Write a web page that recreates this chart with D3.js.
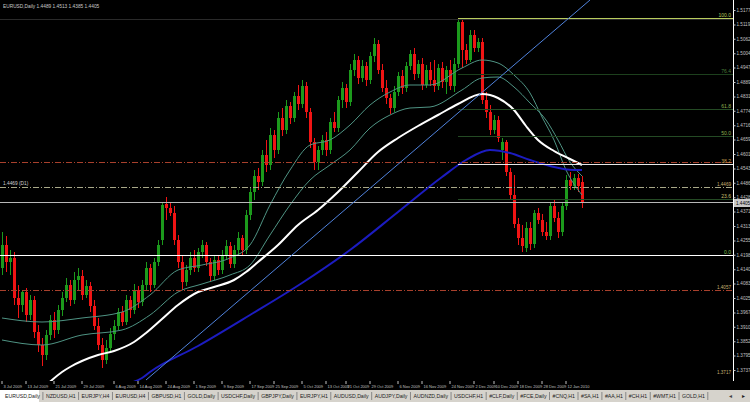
<!DOCTYPE html>
<html lang="en">
<head>
<meta charset="utf-8">
<title>EURUSD,Daily</title>
<script src="https://cdn.jsdelivr.net/npm/d3@7/dist/d3.min.js"></script>
<style>
body { margin: 0; background: #000; }
svg { display: block; font-family: "Liberation Sans", Arial, sans-serif; }
.axis text { fill: #c0c0c0; font-family: "Liberation Sans Narrow", "Liberation Sans", sans-serif; }
.axis line { stroke: #c0c0c0; }
</style>
</head>
<body>
<script>

// daily candles, [open, high, low, close]
var candles = [
  [1.4145,1.4289,1.4117,1.4237],[1.4237,1.4273,1.4129,1.4169],[1.4169,1.4217,1.4117,1.4185],[1.4185,1.4209,1.3997,1.4025],
  [1.4025,1.4077,1.3945,1.3997],[1.3997,1.4057,1.3969,1.4049],[1.4049,1.4065,1.3929,1.3957],[1.3957,1.4037,1.3937,1.4017],
  [1.4017,1.4033,1.3865,1.3889],[1.3889,1.3917,1.3809,1.3837],[1.3837,1.3865,1.3753,1.3797],[1.3797,1.3897,1.3777,1.3877],
  [1.3877,1.3957,1.3857,1.3937],[1.3937,1.3969,1.3865,1.3897],[1.3897,1.3997,1.3881,1.3977],[1.3977,1.4049,1.3953,1.4025],
  [1.4025,1.4105,1.4009,1.4077],[1.4077,1.4097,1.3993,1.4017],[1.4017,1.4129,1.4001,1.4097],[1.4097,1.4145,1.4057,1.4113],
  [1.4113,1.4137,1.4017,1.4037],[1.4037,1.4097,1.4025,1.4073],[1.4073,1.4089,1.3969,1.3993],[1.3993,1.4017,1.3897,1.3913],
  [1.3913,1.3945,1.3817,1.3837],[1.3837,1.3865,1.3745,1.3777],[1.3777,1.3857,1.3761,1.3825],[1.3825,1.3905,1.3809,1.3881],
  [1.3881,1.3937,1.3857,1.3913],[1.3913,1.3985,1.3897,1.3969],[1.3969,1.3993,1.3913,1.3929],[1.3929,1.4037,1.3917,1.4017],
  [1.4017,1.4033,1.3945,1.3977],[1.3977,1.4081,1.3961,1.4057],[1.4057,1.4073,1.3985,1.4009],[1.4009,1.4097,1.3993,1.4077],
  [1.4077,1.4169,1.4057,1.4145],[1.4145,1.4161,1.4049,1.4077],[1.4077,1.4185,1.4065,1.4169],[1.4169,1.4257,1.4153,1.4237],
  [1.4257,1.4405,1.4237,1.4397],[1.4401,1.4429,1.4337,1.4385],[1.4385,1.4405,1.4353,1.4365],[1.4365,1.4393,1.4237,1.4257],
  [1.4257,1.4277,1.4145,1.4169],[1.4169,1.4197,1.4057,1.4089],[1.4089,1.4157,1.4073,1.4137],[1.4137,1.4209,1.4117,1.4185],
  [1.4185,1.4217,1.4129,1.4145],[1.4145,1.4225,1.4129,1.4209],[1.4209,1.4257,1.4185,1.4237],[1.4237,1.4249,1.4153,1.4169],
  [1.4169,1.4185,1.4089,1.4113],[1.4113,1.4197,1.4097,1.4177],[1.4177,1.4197,1.4117,1.4137],[1.4137,1.4217,1.4121,1.4193],
  [1.4193,1.4257,1.4177,1.4233],[1.4233,1.4249,1.4145,1.4161],[1.4161,1.4237,1.4145,1.4217],[1.4217,1.4289,1.4197,1.4265],
  [1.4265,1.4277,1.4193,1.4217],[1.4217,1.4377,1.4201,1.4357],[1.4357,1.4465,1.4337,1.4449],[1.4449,1.4537,1.4417,1.4513],
  [1.4513,1.4545,1.4457,1.4489],[1.4489,1.4617,1.4473,1.4597],[1.4597,1.4657,1.4529,1.4557],[1.4557,1.4705,1.4537,1.4677],
  [1.4677,1.4697,1.4585,1.4617],[1.4617,1.4769,1.4601,1.4745],[1.4745,1.4785,1.4673,1.4697],[1.4697,1.4817,1.4681,1.4793],
  [1.4793,1.4809,1.4721,1.4745],[1.4745,1.4849,1.4729,1.4833],[1.4833,1.4877,1.4777,1.4801],[1.4801,1.4897,1.4785,1.4873],
  [1.4873,1.4889,1.4745,1.4769],[1.4769,1.4785,1.4625,1.4649],[1.4649,1.4665,1.4537,1.4569],[1.4569,1.4633,1.4537,1.4617],
  [1.4617,1.4677,1.4597,1.4657],[1.4657,1.4689,1.4593,1.4617],[1.4617,1.4745,1.4601,1.4729],[1.4729,1.4769,1.4689,1.4705],
  [1.4705,1.4833,1.4689,1.4817],[1.4817,1.4889,1.4785,1.4865],[1.4865,1.4881,1.4785,1.4809],[1.4809,1.4961,1.4793,1.4937],
  [1.4937,1.5001,1.4913,1.4977],[1.4977,1.4993,1.4881,1.4905],[1.4905,1.4977,1.4889,1.4953],[1.4953,1.4969,1.4873,1.4897],
  [1.4897,1.5009,1.4881,1.4993],[1.4993,1.5065,1.4969,1.5041],[1.5041,1.5057,1.4921,1.4937],[1.4937,1.4961,1.4849,1.4865],
  [1.4865,1.4897,1.4801,1.4825],[1.4825,1.4841,1.4761,1.4785],[1.4785,1.4873,1.4769,1.4849],[1.4849,1.4929,1.4833,1.4913],
  [1.4913,1.4937,1.4841,1.4865],[1.4865,1.4969,1.4849,1.4953],[1.4953,1.5017,1.4937,1.5001],[1.5001,1.5025,1.4897,1.4921],
  [1.4921,1.4977,1.4905,1.4961],[1.4961,1.4985,1.4857,1.4877],[1.4877,1.4957,1.4865,1.4937],[1.4937,1.4969,1.4873,1.4897],
  [1.4897,1.4977,1.4849,1.4873],[1.4873,1.4961,1.4857,1.4945],[1.4945,1.4969,1.4865,1.4889],[1.4889,1.4953,1.4841,1.4937],
  [1.4937,1.4977,1.4857,1.4873],[1.4873,1.4985,1.4849,1.4961],[1.4961,1.5145,1.4945,1.5129],[1.5129,1.5141,1.4945,1.5017],
  [1.5017,1.5041,1.4961,1.4977],[1.4977,1.5097,1.4969,1.5077],[1.5077,1.5097,1.5009,1.5025],[1.5025,1.5065,1.5009,1.5049],
  [1.5049,1.5065,1.4801,1.4817],[1.4817,1.4849,1.4745,1.4769],[1.4769,1.4797,1.4677,1.4697],[1.4697,1.4757,1.4681,1.4737],
  [1.4737,1.4753,1.4649,1.4665],[1.4617,1.4665,1.4577,1.4649],[1.4649,1.4657,1.4513,1.4529],[1.4529,1.4545,1.4417,1.4437],
  [1.4437,1.4517,1.4305,1.4321],[1.4321,1.4345,1.4237,1.4265],[1.4265,1.4317,1.4209,1.4233],[1.4225,1.4329,1.4209,1.4305],
  [1.4305,1.4329,1.4217,1.4241],[1.4241,1.4377,1.4225,1.4365],[1.4365,1.4385,1.4321,1.4337],[1.4337,1.4361,1.4273,1.4289],
  [1.4289,1.4329,1.4257,1.4273],[1.4273,1.4405,1.4257,1.4393],[1.4393,1.4417,1.4329,1.4345],[1.4345,1.4369,1.4265,1.4289],
  [1.4289,1.4409,1.4273,1.4393],[1.4393,1.4517,1.4377,1.4497],[1.4497,1.4529,1.4457,1.4473],[1.4473,1.4521,1.4457,1.4505],
  [1.4505,1.4521,1.4449,1.4473],[1.4489,1.4513,1.4385,1.4405]
];

var timeLabels = ["3 Jul 2009","13 Jul 2009","21 Jul 2009","29 Jul 2009","6 Aug 2009","14 Aug 2009","24 Aug 2009",
  "1 Sep 2009","9 Sep 2009","17 Sep 2009","25 Sep 2009","5 Oct 2009","13 Oct 2009","21 Oct 2009","29 Oct 2009",
  "6 Nov 2009","16 Nov 2009","24 Nov 2009","2 Dec 2009","10 Dec 2009","18 Dec 2009","28 Dec 2009","12 Jan 2010"];
var timeBars = [0,6,13,20,28,34,41,48,55,62,68,75,81,86,92,99,105,112,118,123,129,135,141];

var priceTicks = [1.5177,1.5119,1.5062,1.5004,1.4947,1.4889,1.4831,1.4774,1.4716,1.4659,1.4601,1.4543,1.4486,
  1.4428,1.4371,1.4313,1.4255,1.4198,1.4140,1.4083,1.4025,1.3967,1.3910,1.3852,1.3795,1.3737];

// indicator lines, [bar, price]
var maWhite = [[12,1.3690],[15,1.3729],[17,1.3749],[24,1.3797],[28,1.3813],[33,1.3849],[36,1.3885],[40,1.3941],
  [44,1.3997],[49,1.4049],[53,1.4069],[58,1.4097],[61,1.4129],[64,1.4169],[69,1.4237],[74,1.4317],[79,1.4377],
  [84,1.4449],[89,1.4529],[94,1.4609],[99,1.4665],[104,1.4713],[109,1.4757],[114,1.4801],[120,1.4841],[124,1.4825],
  [128,1.4777],[131,1.4713],[134,1.4657],[138,1.4613],[142,1.4581],[145,1.4557]];
var maTealFast = [[0,1.3945],[10,1.3929],[20,1.3945],[30,1.3969],[37,1.4037],[44,1.4137],[50,1.4157],[57,1.4185],
  [62,1.4237],[67,1.4397],[72,1.4537],[77,1.4637],[82,1.4657],[87,1.4717],[92,1.4797],[97,1.4849],[102,1.4877],
  [107,1.4877],[115,1.4945],[120,1.4977],[124,1.4965],[128,1.4917],[132,1.4845],[135,1.4749],[138,1.4657],
  [141,1.4537],[145,1.4437]];
var maTealSlow = [[0,1.3857],[10,1.3837],[20,1.3877],[30,1.3897],[37,1.3957],[44,1.4049],[50,1.4081],[57,1.4117],
  [62,1.4157],[67,1.4277],[72,1.4397],[77,1.4497],[82,1.4557],[87,1.4617],[92,1.4705],[97,1.4757],[102,1.4785],
  [107,1.4789],[115,1.4857],[120,1.4905],[124,1.4909],[128,1.4869],[132,1.4805],[136,1.4737],[139,1.4657],
  [142,1.4569],[145,1.4513]];
var maBlue = [[31,1.3680],[35,1.3705],[37,1.3729],[49,1.3833],[62,1.3957],[75,1.4085],[87,1.4217],[99,1.4369],
  [110,1.4509],[116,1.4577],[122,1.4617],[127,1.4605],[132,1.4577],[137,1.4553],[143,1.4537],[145,1.4537]];

// objects
var trendLine = [[36,1.3697],[147,1.5217]];
var fibHigh = 1.5145, fibLow = 1.4197, fibBar = 114;
var fibLevels = [100, 76.4, 61.8, 50, 38.2, 23.6, 0];
var levelPrices = [1.5141, 1.4569, 1.4469, 1.4197, 1.4057];
var levelTags = ["", "", "1.4469", "", "1.4057"];
var noteLabel = "1.3717";
var notePrice = 1.3717;
var bidPrice = 1.4405;

var title = "EURUSD,Daily  1.4489 1.4513 1.4385 1.4405";
var tabs = ["EURUSD,Daily","NZDUSD,H1","EURJPY,H4","EURUSD,H4","GBPUSD,H1","GOLD,Daily","USDCHF,Daily",
  "GBPJPY,Daily","EURJPY,H1","AUDUSD,Daily","AUDJPY,Daily","AUDNZD,Daily","USDCHF,H1","#CLF,Daily",
  "#FCE,Daily","#CNQ,H1","#SA,H1","#AA,H1","#CH,H1","#WMT,H1","GOLD,H1"];

var W = 750, H = 402, right = 733, bottom = 381;

var svg = d3.select("body").append("svg")
            .attr("width", W)
            .attr("height", H);

svg.append("rect").attr("width", W).attr("height", H).attr("fill", "#000");

var x = d3.scaleLinear().domain([0, 145]).range([2, 582]);
var y = d3.scaleLinear().domain([1.3697, 1.5217]).range([380, 0]);

svg.append("defs").append("clipPath").attr("id", "clip")
   .append("rect").attr("width", right).attr("height", bottom);

var plot = svg.append("g").attr("clip-path", "url(#clip)");

//candles

var bx = function(i) { return Math.round(x(i)) + 0.5; };
var col = function(d) { return d[3] >= d[0] ? "#1c9a1c" : "#f01414"; };

var cg = plot.append("g").selectAll("g").data(candles).enter().append("g");

cg.append("line")
  .attr("x1", function(d, i) { return bx(i); })
  .attr("x2", function(d, i) { return bx(i); })
  .attr("y1", function(d) { return y(d[1]); })
  .attr("y2", function(d) { return y(d[2]); })
  .attr("stroke", col);

cg.append("rect")
  .attr("x", function(d, i) { return bx(i) - 1.5; })
  .attr("y", function(d) { return y(Math.max(d[0], d[3])); })
  .attr("width", 3)
  .attr("height", function(d) { return Math.max(1, y(Math.min(d[0], d[3])) - y(Math.max(d[0], d[3]))); })
  .attr("fill", col);

//moving averages

var line = d3.line()
             .x(function(d) { return x(d[0]); })
             .y(function(d) { return y(d[1]); })
             .curve(d3.curveMonotoneX);

plot.append("path").attr("d", line(maTealSlow)).attr("fill", "none").attr("stroke", "#4f9484").attr("stroke-width", 1);
plot.append("path").attr("d", line(maTealFast)).attr("fill", "none").attr("stroke", "#4f9484").attr("stroke-width", 1);
plot.append("path").attr("d", line(maBlue)).attr("fill", "none").attr("stroke", "#1c1cc0").attr("stroke-width", 2);
plot.append("path").attr("d", line(maWhite)).attr("fill", "none").attr("stroke", "#ffffff").attr("stroke-width", 2);

//horizontal levels

var levelColors = ["#2a2a2a", "#a8402c", "#a8a888", "#ffffff", "#a8402c"];
var levelDash = ["", "6,2,1,2", "6,2,1,2", "", "6,2,1,2"];

levelPrices.forEach(function(p, i) {
  var yy = Math.round(y(p)) + 0.5;
  plot.append("line")
      .attr("x1", 0).attr("x2", right)
      .attr("y1", yy).attr("y2", yy)
      .attr("stroke", levelColors[i])
      .attr("stroke-dasharray", levelDash[i]);
  if (levelTags[i]) {
    svg.append("text")
       .attr("x", right - 2).attr("y", yy - 1.5)
       .attr("text-anchor", "end")
       .attr("font-size", "4.6px")
       .attr("fill", "#c8b070")
       .text(levelTags[i]);
  }
});

svg.append("text")
   .attr("x", right - 2).attr("y", Math.round(y(notePrice)) - 1)
   .attr("text-anchor", "end")
   .attr("font-size", "4.6px")
   .attr("fill", "#c8b070")
   .text(noteLabel);

//bid line
plot.append("line")
    .attr("x1", 0).attr("x2", right)
    .attr("y1", Math.round(y(bidPrice)) - 0.5).attr("y2", Math.round(y(bidPrice)) - 0.5)
    .attr("stroke", "#b8b8b8");

//fibonacci

var fibColors = {100: "#b9cc5e", 76.4: "#1d401d", 61.8: "#244a24", 50: "#244a24", 38.2: "#e8e8e8", 23.6: "#244a24", 0: "#ffffff"};
var fibText = {100: "#b9cc5e", 76.4: "#4a7a3a", 61.8: "#8fb050", 50: "#8fb050", 38.2: "#c8a050", 23.6: "#c8c070", 0: "#7fc050"};

fibLevels.forEach(function(l) {
  var p = fibLow + (fibHigh - fibLow) * l / 100;
  var yy = Math.round(y(p)) + 0.5;
  plot.append("line")
      .attr("x1", x(fibBar)).attr("x2", right)
      .attr("y1", yy).attr("y2", yy)
      .attr("stroke", fibColors[l]);
  svg.append("text")
     .attr("x", right - 2).attr("y", yy - 1.5)
     .attr("text-anchor", "end")
     .attr("font-size", "5px")
     .attr("fill", fibText[l])
     .text(l.toFixed(1));
});

//trend line

plot.append("line")
    .attr("x1", x(trendLine[0][0])).attr("y1", y(trendLine[0][1]))
    .attr("x2", x(trendLine[1][0])).attr("y2", y(trendLine[1][1]))
    .attr("stroke", "#4f82dc");

//axes

var yAxis = d3.axisRight(y)
              .tickValues(priceTicks)
              .tickFormat(d3.format(".4f"))
              .tickSize(2)
              .tickSizeOuter(0)
              .tickPadding(1);

var ya = svg.append("g").attr("class", "axis")
            .attr("transform", "translate(" + (right + 0.5) + ",0)")
            .call(yAxis);
ya.select(".domain").attr("stroke", "#ffffff").attr("d", "M0,0V" + bottom);
ya.selectAll(".tick text").attr("font-size", "4.6px");

var xAxis = d3.axisBottom(x)
              .tickValues(timeBars)
              .tickFormat(function(d, i) { return timeLabels[i]; })
              .tickSize(3)
              .tickSizeOuter(0);

var xa = svg.append("g").attr("class", "axis")
            .attr("transform", "translate(0," + bottom + ")")
            .call(xAxis);
xa.select(".domain").remove();
xa.selectAll(".tick line").attr("transform", "translate(-0.5,0)");
xa.selectAll(".tick text").attr("text-anchor", "start").attr("x", 1).attr("y", 4).attr("font-size", "4px");

//bid label
var by = Math.round(y(bidPrice));
svg.append("rect").attr("x", right + 1).attr("y", by - 4).attr("width", W - right).attr("height", 8).attr("fill", "#c8c8c8");
svg.append("text").attr("x", right + 3).attr("y", by + 2).attr("font-size", "4.6px")
   .attr("font-family", "Liberation Sans Narrow, Liberation Sans, sans-serif")
   .attr("fill", "#000").text(bidPrice.toFixed(4));

//title and left label
svg.append("text").attr("x", 3).attr("y", 8).attr("font-size", "4.8px").attr("fill", "#c8c8c8").text(title);
svg.append("text").attr("x", 3).attr("y", y(1.4469) - 2).attr("font-size", "4.8px").attr("fill", "#d0d0d0").text("1.4469 (D1)");

//tab bar

svg.append("rect").attr("x", 0).attr("y", 390).attr("width", W).attr("height", 12).attr("fill", "#d6d3cc");
svg.append("rect").attr("x", 0).attr("y", 390).attr("width", 39).attr("height", 12).attr("fill", "#ffffff");

var tx = 5;
tabs.forEach(function(t, i) {
  var tt = svg.append("text").attr("x", tx).attr("y", 398)
              .attr("font-size", "5.2px").attr("fill", "#222").text(t);
  var w = tt.node().getComputedTextLength();
  tx += w + 6;
  svg.append("line").attr("x1", tx - 3).attr("x2", tx - 3).attr("y1", 392).attr("y2", 400).attr("stroke", "#888");
});
svg.append("text").attr("x", 729).attr("y", 398).attr("font-size", "6px").attr("fill", "#444").text("\u25c2");
svg.append("text").attr("x", 742).attr("y", 398).attr("font-size", "6px").attr("fill", "#222").text("\u25b8");

</script>
</body>
</html>
